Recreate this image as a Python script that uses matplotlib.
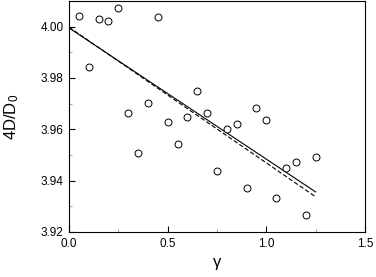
import matplotlib
matplotlib.use("Agg")
import matplotlib.pyplot as plt
import numpy as np
from matplotlib.ticker import MultipleLocator, FormatStrFormatter

plt.rcParams['font.family'] = ['Liberation Sans', 'DejaVu Sans']
plt.rcParams['mathtext.fontset'] = 'custom'
plt.rcParams['mathtext.rm'] = 'Liberation Sans'
plt.rcParams['mathtext.default'] = 'regular'

gamma = [0.05, 0.10, 0.15, 0.20, 0.25, 0.30, 0.35, 0.40, 0.45, 0.50,
         0.55, 0.60, 0.65, 0.70, 0.75, 0.80, 0.85, 0.90, 0.95, 1.00,
         1.05, 1.10, 1.15, 1.20, 1.25]
ratio = [4.0040, 3.9841, 4.0028, 4.0022, 4.0074, 3.9663, 3.9507, 3.9701, 4.0036, 3.9627,
         3.9542, 3.9650, 3.9749, 3.9663, 3.9438, 3.9601, 3.9622, 3.9371, 3.9683, 3.9638,
         3.9332, 3.9449, 3.9472, 3.9267, 3.9492]

line_x = [0.0, 1.25]
solid_y = [3.9995, 3.9356]
dashed_y = [3.9998, 3.9337]

fig = plt.figure(figsize=(3.76, 2.77), dpi=100)
ax = fig.add_axes([69/376, 1 - 232/277, (365-69)/376, (232-1)/277])

ax.plot(line_x, solid_y, color='black', lw=0.8)
ax.plot(line_x, dashed_y, color='black', lw=0.8, ls=(0, (4, 2)))
ax.plot(gamma, ratio, ls='none', marker='o', mfc='white', mec='black',
        ms=5, mew=0.7)

ax.set_xlim(0, 1.5)
ax.set_ylim(3.92, 4.01)
ax.xaxis.set_major_locator(MultipleLocator(0.5))
ax.xaxis.set_minor_locator(MultipleLocator(0.25))
ax.yaxis.set_major_locator(MultipleLocator(0.02))
ax.yaxis.set_minor_locator(MultipleLocator(0.01))
ax.xaxis.set_major_formatter(FormatStrFormatter('%.1f'))
ax.yaxis.set_major_formatter(FormatStrFormatter('%.2f'))

ax.tick_params(which='both', direction='in', top=False, right=False, labelsize=8.5)
ax.tick_params(which='major', length=4, width=0.8, color='black', pad=4)
ax.tick_params(which='minor', length=2, width=0.8, color='#aaaaaa')
for s in ax.spines.values():
    s.set_linewidth(0.8)
    s.set_color('black')

ax.set_xlabel('γ', fontsize=12, labelpad=4)
ax.set_ylabel('4D/D$_{0}$', fontsize=12, labelpad=14)

fig.savefig('out.png', dpi=100)
